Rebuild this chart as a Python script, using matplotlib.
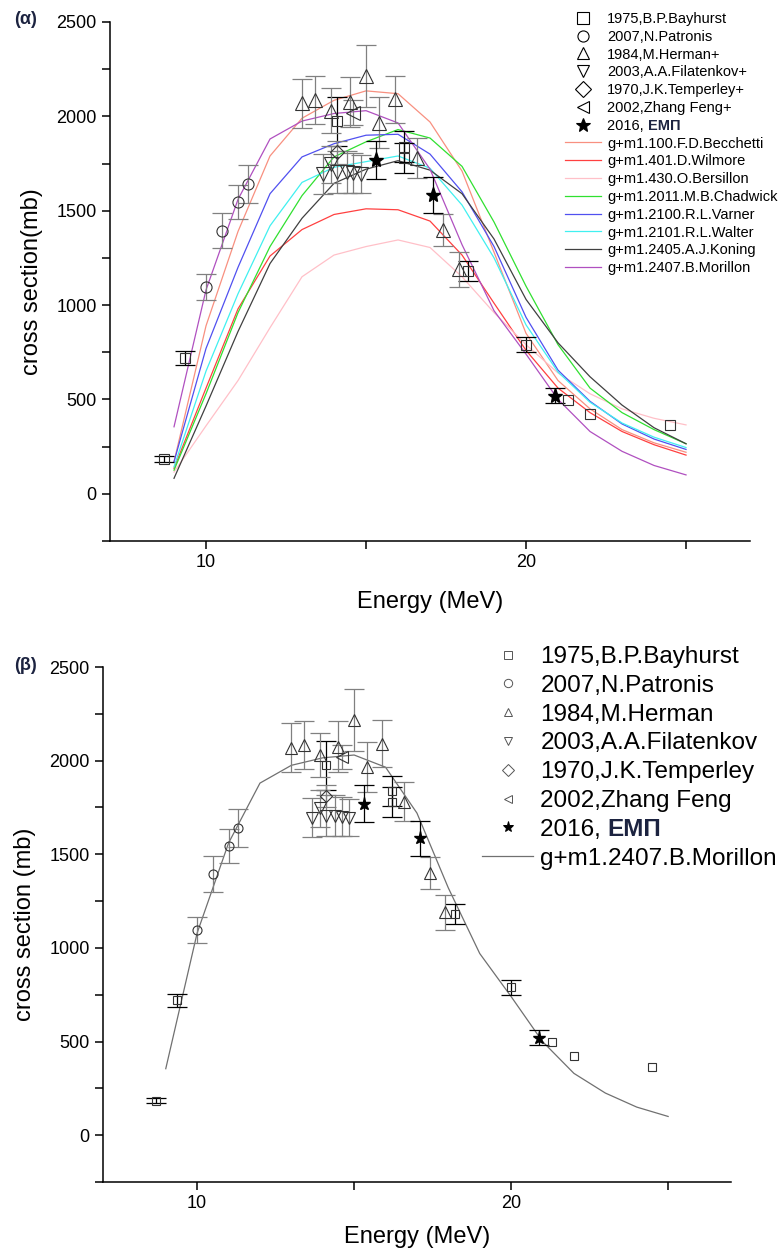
import matplotlib
matplotlib.use("Agg")
import matplotlib.pyplot as plt
from matplotlib.ticker import MultipleLocator
from matplotlib.lines import Line2D

plt.rcParams['font.family'] = ['Liberation Sans', 'DejaVu Sans']

nan = float('nan')

# experimental data (energy MeV, cross section mb, error mb)
bayhurst_e = [8.7, 9.35, 14.1, 16.2, 16.2, 18.2, 20.0, 21.3, 22.0, 24.5]
bayhurst_s = [185, 720, 1975, 1840, 1780, 1180, 790, 495, 425, 365]
bayhurst_err = [15, 35, 130, 80, 80, 55, 40, nan, nan, nan]

patronis_e = [10.0, 10.5, 11.0, 11.3]
patronis_s = [1095, 1395, 1545, 1640]
patronis_err = [70, 95, 90, 100]

herman_e = [13.0, 13.4, 13.9, 14.5, 15.0, 15.4, 15.9, 16.6, 17.4, 17.9]
herman_s = [2070, 2085, 2030, 2075, 2215, 1965, 2090, 1780, 1400, 1190]
herman_err = [130, 128, 120, 134, 165, 135, 125, 105, 85, 92]

filatenkov_e = [13.65, 13.9, 14.1, 14.4, 14.6, 14.85]
filatenkov_s = [1695, 1745, 1705, 1705, 1700, 1695]
filatenkov_err = [105, 100, 110, 110, 105, 100]

temperley_e = [14.1]
temperley_s = [1810]
temperley_err = [60]

zhang_e = [14.6]
zhang_s = [2020]
zhang_err = [65]

emp_e = [15.3, 17.1, 20.9]
emp_s = [1770, 1585, 520]
emp_err = [100, 95, 40]

# calculations
calc_e = [9, 10, 11, 12, 13, 14, 15, 16, 17, 18, 19, 20, 21, 22, 23, 24, 25]
becchetti = [170, 890, 1390, 1790, 1990, 2085, 2135, 2120, 1970, 1710, 1280, 850, 600, 450, 340, 270, 220]
wilmore = [135, 560, 980, 1260, 1400, 1480, 1510, 1505, 1445, 1265, 1010, 760, 560, 430, 330, 260, 205]
bersillon = [115, 360, 600, 880, 1150, 1265, 1310, 1345, 1305, 1150, 960, 790, 640, 530, 450, 400, 365]
chadwick = [125, 530, 960, 1310, 1580, 1785, 1865, 1930, 1885, 1735, 1440, 1100, 790, 560, 430, 340, 265]
varner = [170, 770, 1200, 1590, 1785, 1855, 1900, 1905, 1800, 1600, 1310, 935, 655, 490, 370, 290, 235]
walter = [143, 650, 1060, 1420, 1650, 1730, 1760, 1790, 1725, 1530, 1250, 895, 645, 485, 375, 300, 245]
koning = [82, 465, 860, 1220, 1460, 1645, 1720, 1765, 1715, 1590, 1350, 1030, 800, 620, 470, 350, 265]
morillon = [355, 1080, 1560, 1880, 1975, 2015, 2030, 1965, 1720, 1320, 970, 740, 500, 330, 225, 150, 100]

calc_names = ["g+m1.100.F.D.Becchetti", "g+m1.401.D.Wilmore", "g+m1.430.O.Bersillon",
              "g+m1.2011.M.B.Chadwick", "g+m1.2100.R.L.Varner", "g+m1.2101.R.L.Walter",
              "g+m1.2405.A.J.Koning", "g+m1.2407.B.Morillon"]
calc_data = [becchetti, wilmore, bersillon, chadwick, varner, walter, koning, morillon]
calc_colors = ["#f89080", "#ff4040", "#ffc0c8", "#30e030", "#5050f0", "#40f0f0", "#404040", "#b050c0"]

fig = plt.figure(figsize=(7.83, 12.56), dpi=100)
ax1 = fig.add_axes([0.1405, 0.5693, 0.8174, 0.4132])
ax2 = fig.add_axes([0.1315, 1 - 1182 / 1256, 0.802, 515 / 1256])


def style_axes(ax, ylabel, xpad):
    ax.set_xlim(7, 27)
    ax.set_ylim(-250, 2500)
    ax.spines['top'].set_visible(False)
    ax.spines['right'].set_visible(False)
    for s in ['left', 'bottom']:
        ax.spines[s].set_linewidth(1.1)
    ax.xaxis.set_major_locator(MultipleLocator(10))
    ax.xaxis.set_minor_locator(MultipleLocator(5))
    ax.yaxis.set_major_locator(MultipleLocator(500))
    ax.yaxis.set_minor_locator(MultipleLocator(250))
    ax.tick_params(which='both', direction='out', length=6, width=1.1, labelsize=13)
    ax.set_xlabel('Energy (MeV)', fontsize=17, labelpad=xpad)
    ax.set_ylabel(ylabel, fontsize=17, labelpad=10)


exp_sets = [
    (bayhurst_e, bayhurst_s, bayhurst_err, 's', "1975,B.P.Bayhurst", 'black'),
    (patronis_e, patronis_s, patronis_err, 'o', "2007,N.Patronis", 'gray'),
    (herman_e, herman_s, herman_err, '^', "1984,M.Herman", 'gray'),
    (filatenkov_e, filatenkov_s, filatenkov_err, 'v', "2003,A.A.Filatenkov", 'gray'),
    (temperley_e, temperley_s, temperley_err, 'D', "1970,J.K.Temperley", 'gray'),
    (zhang_e, zhang_s, zhang_err, '<', "2002,Zhang Feng", 'gray'),
    (emp_e, emp_s, emp_err, '*', "2016, ", 'black'),
]
big_ms = {'s': 7.5, 'o': 8, '^': 10, 'v': 10, 'D': 7, '<': 10, '*': 11}
small_ms = {'s': 6, 'o': 6.5, '^': 8.5, 'v': 8.5, 'D': 6, '<': 8.5, '*': 9.5}


def draw_exp(ax, sizes, plus):
    handles = []
    for e, s, err, mk, lab, ecol in exp_sets:
        ax.errorbar(e, s, yerr=err, fmt='none', ecolor=ecol, elinewidth=0.9,
                    capsize=7, capthick=0.9, zorder=3)
        if mk == '*':
            h, = ax.plot(e, s, ls='none', marker=mk, ms=sizes[mk], color='black', zorder=4)
        else:
            h, = ax.plot(e, s, ls='none', marker=mk, ms=sizes[mk], mfc='none',
                         mec='#333333', mew=0.8, zorder=4)
        if plus and mk in ['^', 'v', 'D', '<']:
            lab = lab + "+"
        handles.append((h, lab))
    return handles


# panel (a)
for name, vals, col in zip(calc_names, calc_data, calc_colors):
    ax1.plot(calc_e, vals, color=col, lw=0.9, zorder=2)
h1 = draw_exp(ax1, big_ms, True)
style_axes(ax1, 'cross section(mb)', 14)

leg_h = [Line2D([], [], ls='none', marker=h.get_marker(), ms=8 if h.get_marker() != '*' else 10,
                mfc='none' if h.get_marker() != '*' else 'black', mec='black', mew=0.8)
         for h, _ in h1]
leg_l = [lab for _, lab in h1]
for name, col in zip(calc_names, calc_colors):
    leg_h.append(Line2D([], [], color=col, lw=0.9))
    leg_l.append(name)
leg1 = fig.legend(leg_h, leg_l, loc='upper left', bbox_to_anchor=(565 / 783, 1 - 12 / 1256),
                  frameon=False, fontsize=10.5, labelspacing=0.26, handlelength=2.5,
                  handletextpad=0.4, borderaxespad=0, borderpad=0)

# panel (b)
ax2.plot(calc_e, morillon, color='#707070', lw=0.9, zorder=2)
h2 = draw_exp(ax2, small_ms, False)
style_axes(ax2, 'cross section (mb)', 10)
leg_h2 = [Line2D([], [], ls='none', marker=h.get_marker(), ms=6 if h.get_marker() != '*' else 8,
                 mfc='none' if h.get_marker() != '*' else 'black',
                 mec='#555555' if h.get_marker() != '*' else 'black', mew=0.7)
          for h, _ in h2]
leg_l2 = [lab for _, lab in h2]
leg_h2.append(Line2D([], [], color='#707070', lw=0.9))
leg_l2.append("g+m1.2407.B.Morillon")
leg2 = fig.legend(leg_h2, leg_l2, loc='upper left', bbox_to_anchor=(482 / 783, 1 - 646 / 1256),
                  frameon=False, fontsize=17.5, labelspacing=0.28, handlelength=2.1,
                  handletextpad=0.3, borderaxespad=0, borderpad=0)

fig.text(14 / 783, 1 - 19 / 1256, '(α)', fontsize=13, weight='bold', color='#1c2340', va='center')
fig.text(14 / 783, 1 - 665 / 1256, '(β)', fontsize=13, weight='bold', color='#1c2340', va='center')

# bold coloured "ЕМП" after the legend label
fig.canvas.draw()
inv = fig.transFigure.inverted()
for leg, fs in [(leg1, 10.5), (leg2, 17.5)]:
    t = leg.get_texts()[6]
    bb = t.get_window_extent()
    x0, y0 = inv.transform((bb.x1, bb.y0))
    fig.text(x0, y0, 'ЕМП', fontsize=fs, weight='bold', color='#1c2340', va='bottom', ha='left')

fig.savefig('out.png', dpi=100)
